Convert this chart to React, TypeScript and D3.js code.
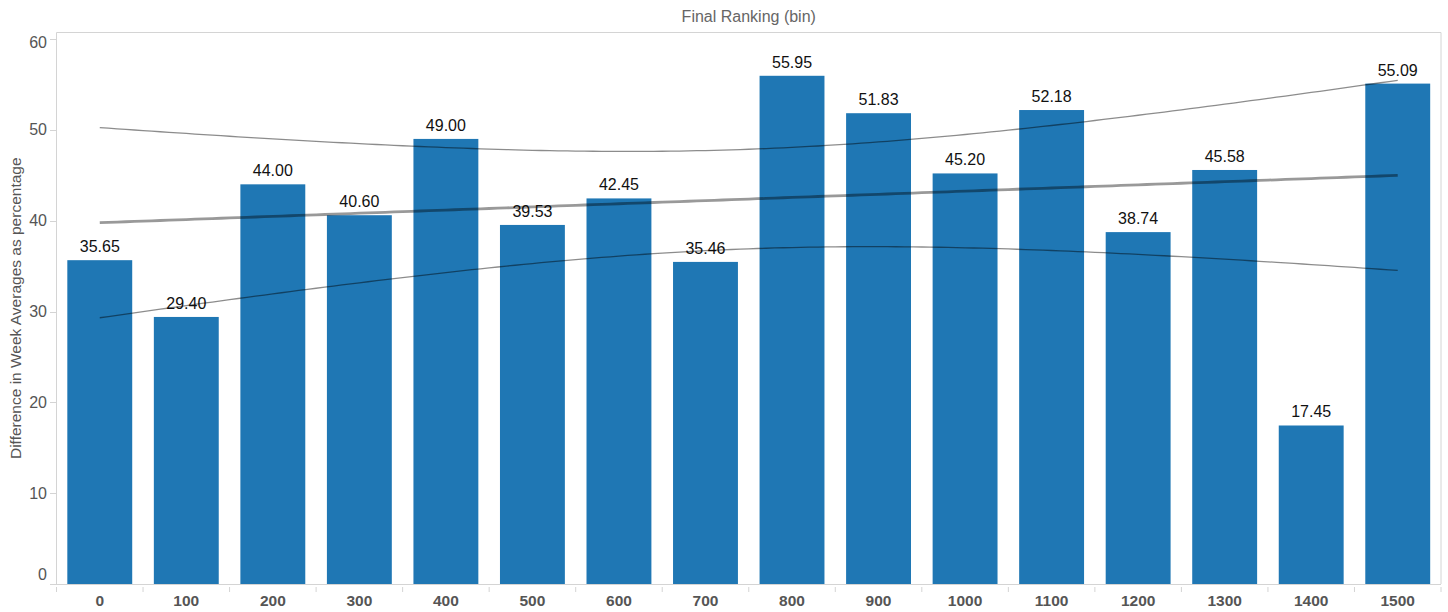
import React from "react";
import * as d3 from "d3";

const categories = ["0", "100", "200", "300", "400", "500", "600", "700", "800", "900", "1000", "1100", "1200", "1300", "1400", "1500"];
const values = [35.65, 29.4, 44.0, 40.6, 49.0, 39.53, 42.45, 35.46, 55.95, 51.83, 45.2, 52.18, 38.74, 45.58, 17.45, 55.09];
const yTicks = [0, 10, 20, 30, 40, 50, 60];
const chartTitle = "Final Ranking (bin)";
const yTitle = "Difference in Week Averages as percentage";
const T_975_DF14 = 2.145;

const W = 1448;
const H = 612;
const left = 56.5;
const right = 1441;
const top = 32.5;
const bottom = 584;
const FONT = "'Liberation Sans', Arial, Helvetica, sans-serif";

export default function App() {
  const x = d3.scaleBand<string>().domain(categories).range([left, right]).paddingInner(0.25).paddingOuter(0.125);
  const y = d3.scaleLinear().domain([0, 60]).range([bottom, 39]);
  const step = x.step();
  const x0 = (x(categories[0]) as number) + x.bandwidth() / 2;
  const px = (i: number) => x0 + i * step;

  // linear regression with 95% confidence bands
  const n = values.length;
  const idx = values.map((_, i) => i);
  const mx = d3.mean(idx) as number;
  const my = d3.mean(values) as number;
  const sxx = d3.sum(idx, (i) => (i - mx) ** 2);
  const sxy = d3.sum(idx, (i) => (i - mx) * (values[i] - my));
  const slope = sxy / sxx;
  const icpt = my - slope * mx;
  const sse = d3.sum(idx, (i) => (values[i] - (icpt + slope * i)) ** 2);
  const s = Math.sqrt(sse / (n - 2));
  const samples = d3.range(0, n - 1 + 0.0001, 0.1);
  const fit = (t: number) => icpt + slope * t;
  const hw = (t: number) => T_975_DF14 * s * Math.sqrt(1 / n + (t - mx) ** 2 / sxx);
  const mk = (f: (t: number) => number) =>
    d3.line<number>().x((t) => px(t)).y((t) => y(f(t)))(samples) as string;

  const boundaries = d3.range(0, categories.length + 1).map((i) => left + i * step);

  return (
    <svg width={W} height={H} style={{ position: "absolute", left: 0, top: 0, display: "block", background: "#fff" }} fontFamily={FONT}>
      <text x={(left + right) / 2} y={21.5} textAnchor="middle" fontSize={16} fill="#666">{chartTitle}</text>
      {/* plot border */}
      <line x1={left} x2={right} y1={top} y2={top} stroke="#d4d4d4" />
      <line x1={left} x2={left} y1={top} y2={bottom} stroke="#d4d4d4" />
      <line x1={right} x2={right} y1={top} y2={bottom} stroke="#d4d4d4" />
      <line x1={50} x2={right} y1={bottom + 0.5} y2={bottom + 0.5} stroke="#d4d4d4" />
      {/* y axis */}
      {yTicks.map((t) => (
        <g key={t}>
          <line x1={50} x2={left} y1={Math.round(y(t)) + 0.5} y2={Math.round(y(t)) + 0.5} stroke="#d4d4d4" />
          <text x={47} y={Math.min(Math.max(y(t), 42), 574)} dy="0.35em" textAnchor="end" fontSize={16} fill="#555">{t}</text>
        </g>
      ))}
      <text transform={`translate(21,${(top + bottom) / 2}) rotate(-90)`} textAnchor="middle" fontSize={15.5} fill="#555">{yTitle}</text>
      {/* bars */}
      {values.map((v, i) => (
        <rect key={i} x={x(categories[i])} y={y(v)} width={x.bandwidth()} height={bottom - y(v)} fill="#1f77b4" />
      ))}
      {values.map((v, i) => (
        <text key={i} x={px(i)} y={y(v) - 8} textAnchor="middle" fontSize={16} fill="#111">{d3.format(".2f")(v)}</text>
      ))}
      {/* trend + confidence */}
      <path d={mk((t) => fit(t) + hw(t))} fill="none" stroke="#000" strokeOpacity={0.45} strokeWidth={1.3} />
      <path d={mk((t) => fit(t) - hw(t))} fill="none" stroke="#000" strokeOpacity={0.45} strokeWidth={1.3} />
      <path d={mk(fit)} fill="none" stroke="#000" strokeOpacity={0.4} strokeWidth={2.8} />
      {/* x axis */}
      {boundaries.map((b, i) => (
        <line key={i} x1={b} x2={b} y1={587} y2={592} stroke="#d4d4d4" />
      ))}
      {categories.map((c) => (
        <text key={c} x={(x(c) as number) + x.bandwidth() / 2} y={605.5} textAnchor="middle" fontSize={15.5} fontWeight="bold" fill="#555">{c}</text>
      ))}
    </svg>
  );
}
